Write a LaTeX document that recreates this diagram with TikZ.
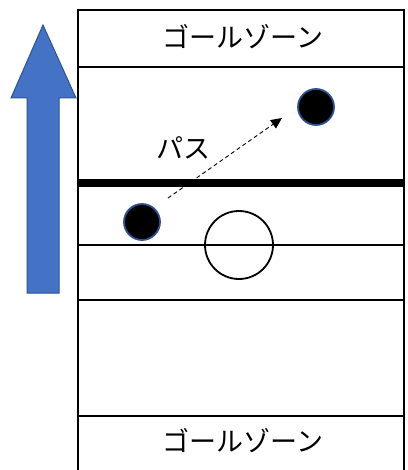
\documentclass[tikz,border=0pt]{standalone}
\usepackage{fontspec}
\newfontfamily\cjk{Noto Sans CJK JP}
\usetikzlibrary{arrows.meta}
\definecolor{arrowblue}{HTML}{4472C4}
\definecolor{edgeblue}{HTML}{2F528F}
\tikzset{
  fieldline/.style={line width=1.8pt, black},
  player/.style={circle, fill=black, draw=edgeblue, line width=1.8pt, minimum size=36pt, inner sep=0pt},
  label/.style={font=\cjk\fontsize{27}{30}\selectfont, inner sep=0pt},
}
\begin{document}
\begin{tikzpicture}[x=1pt,y=-1pt]
\useasboundingbox (0,0) rectangle (407,470);
% field
\draw[fieldline] (78,475) -- (78,10) -- (404,10) -- (404,475);
\draw[fieldline] (78,67) -- (404,67);
\draw[line width=8pt] (78,183) -- (404,183);
\draw[fieldline] (78,245) -- (404,245);
\draw[fieldline] (78,300) -- (404,300);
\draw[fieldline] (78,416) -- (404,416);
% texts
\node[label] (goaltop) at (243,37) {ゴールゾーン};
\node[label] (goalbot) at (243,441) {ゴールゾーン};
\node[label] (pass) at (183,148) {パス};
% big arrow
\draw[fill=arrowblue, draw=edgeblue, line width=1pt]
  (43,25) -- (76,98) -- (59,98) -- (59,293) -- (27,293) -- (27,98) -- (11,98) -- cycle;
% players
\node[player] (p1) at (142,222) {};
\node[player] (p2) at (316,107) {};
\node[circle, draw=black, line width=1.8pt, minimum size=68pt, inner sep=0pt] (ring) at (239,245) {};
% pass arrow
\coordinate (ps) at (168,198);
\coordinate (pe) at (282,118);
\draw[dashed, line width=0.9pt, dash pattern=on 4pt off 3pt, -{Triangle[length=11pt,width=10pt]}] (ps) -- (pe);
\end{tikzpicture}
\end{document}
